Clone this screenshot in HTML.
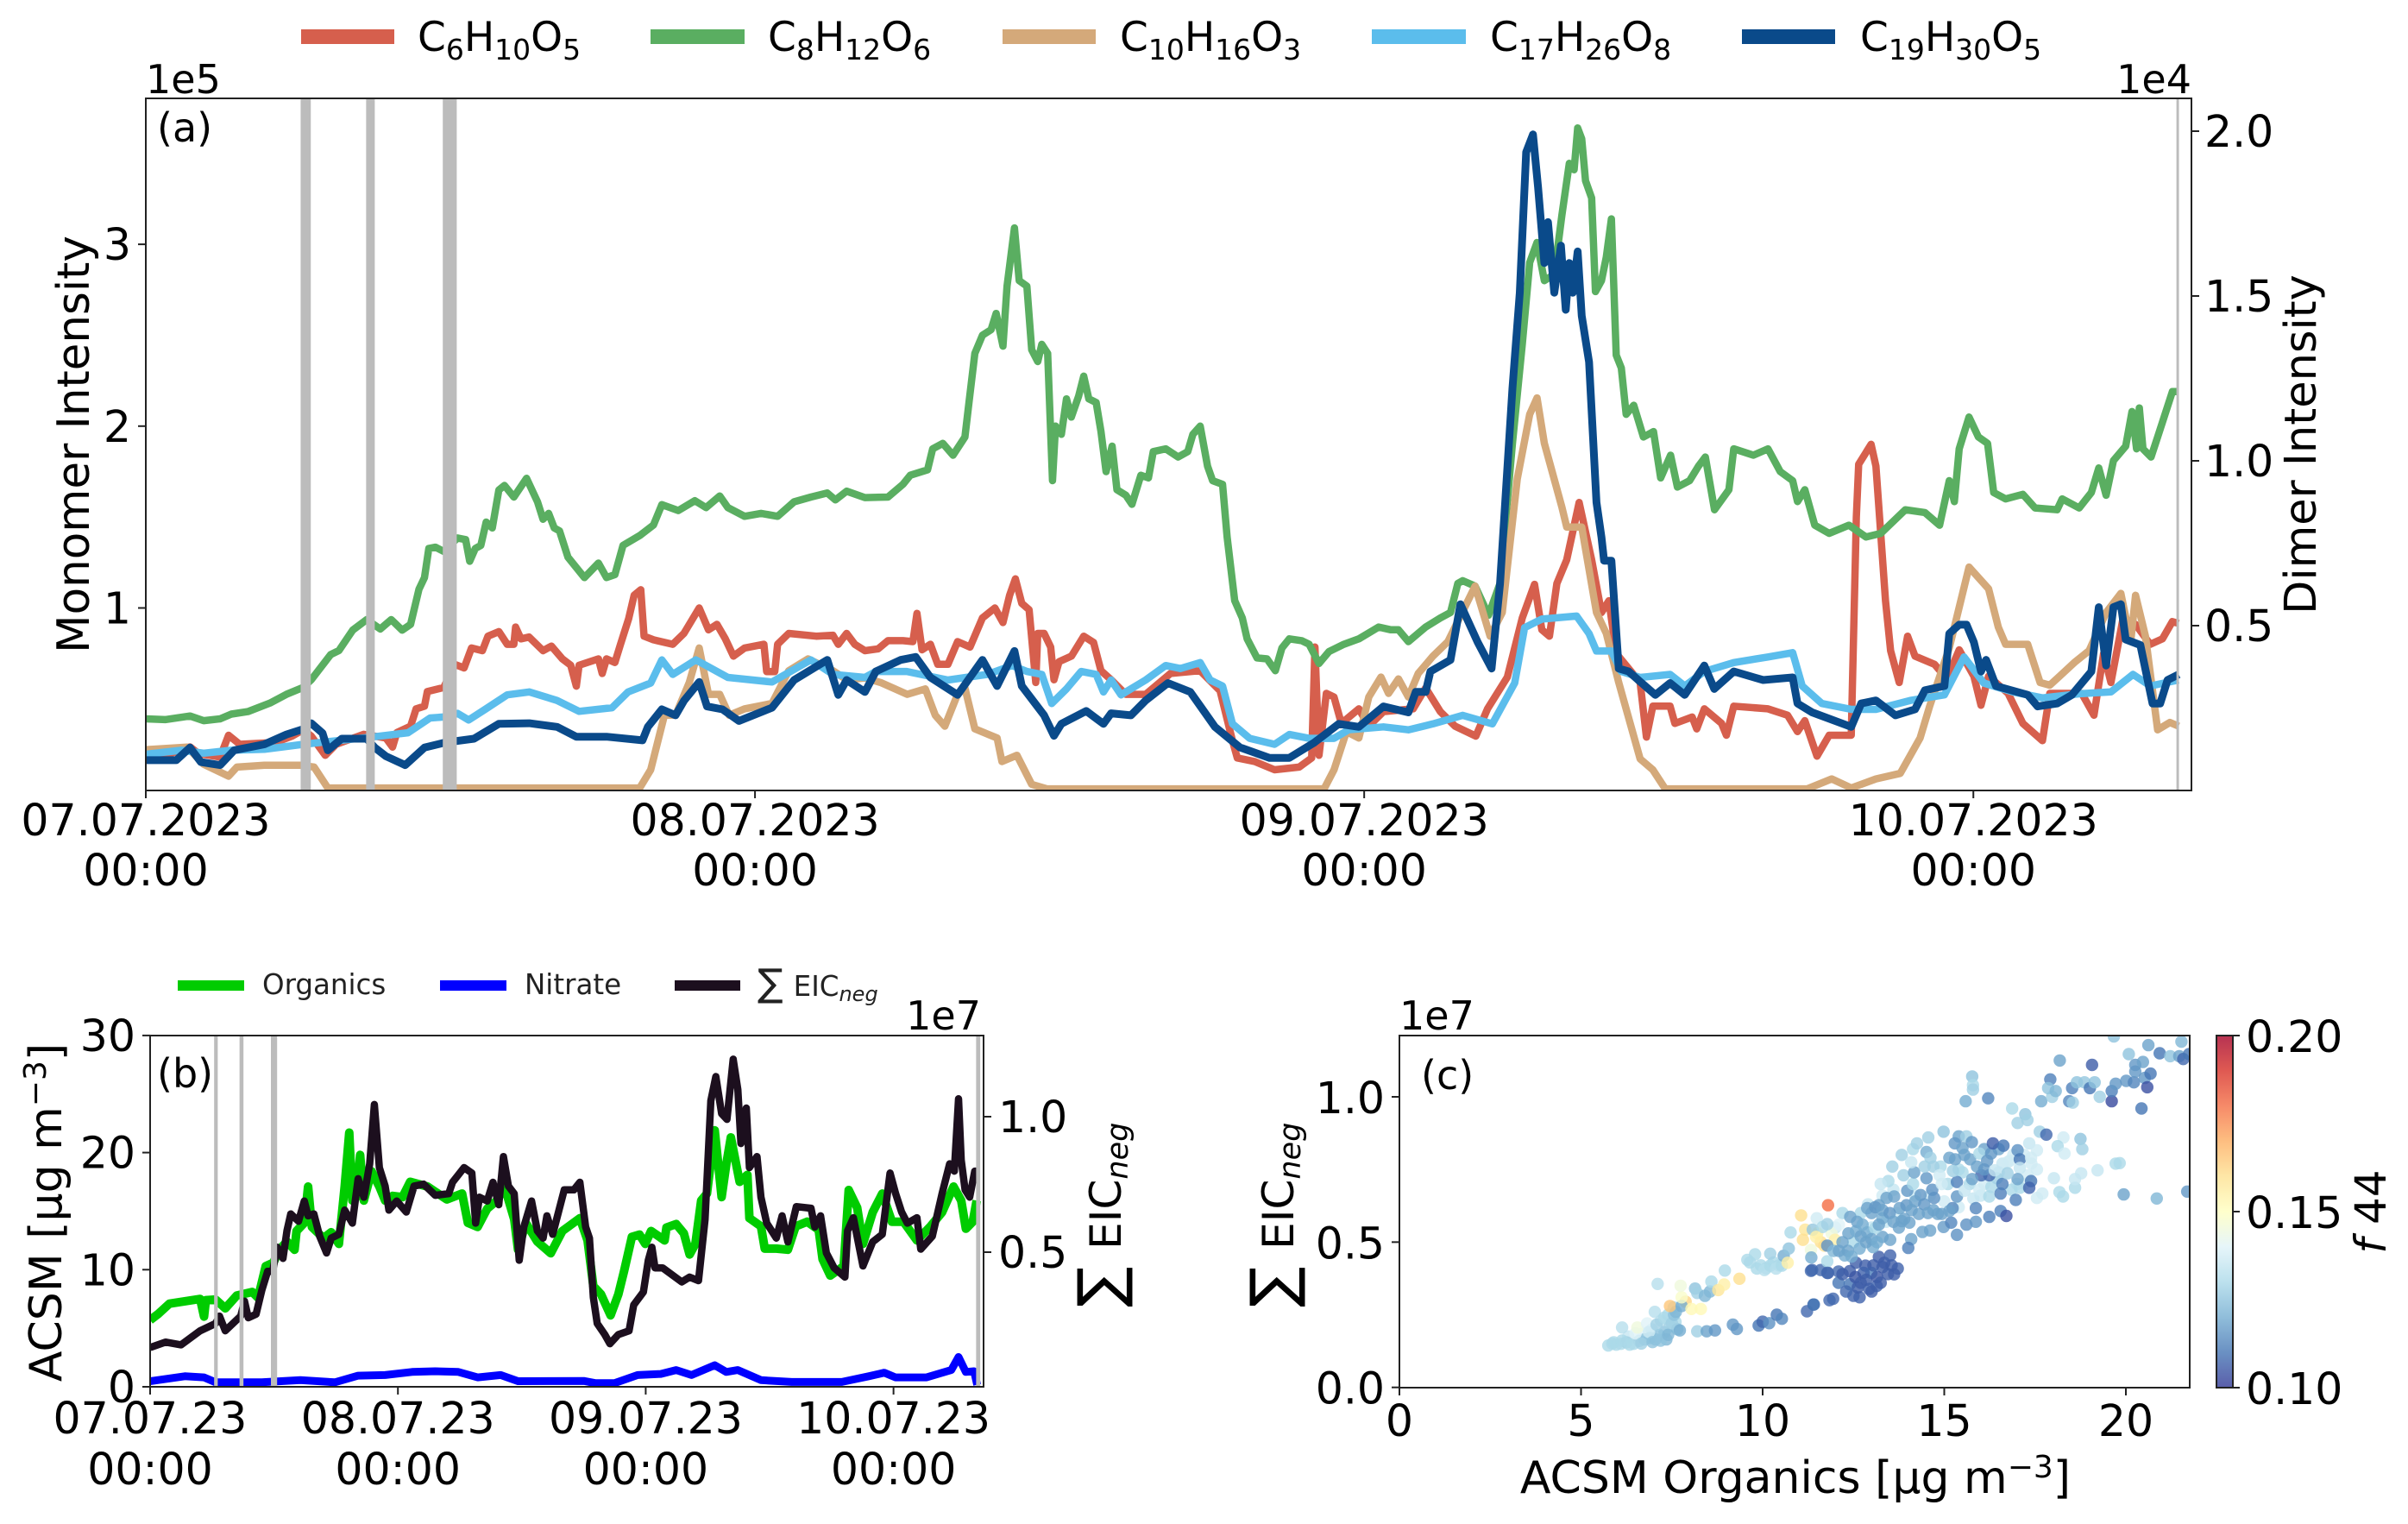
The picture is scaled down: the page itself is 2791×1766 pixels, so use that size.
<!DOCTYPE html>
<html><head><meta charset="utf-8"><title>Monomer and dimer time series</title>
<style>
html,body{margin:0;padding:0;background:#fff}
svg{display:block;font-family:"DejaVu Sans","Liberation Sans",sans-serif;fill:#000}
</style></head>
<body>
<svg id="fig" xmlns="http://www.w3.org/2000/svg" width="2791" height="1766" viewBox="0 0 2791 1766">
<defs>
<clipPath id="clipA"><rect x="169" y="114" width="2371" height="802"/></clipPath>
<clipPath id="clipB"><rect x="174" y="1200" width="966" height="407"/></clipPath>
<clipPath id="clipC"><rect x="1622" y="1200" width="916" height="408"/></clipPath>
<linearGradient id="cbGrad" x1="0" y1="1" x2="0" y2="0"></linearGradient>
</defs>
<g id="panelA"><g id="linesA" clip-path="url(#clipA)"></g><g id="axesA"></g></g>
<g id="panelB"><g id="linesB" clip-path="url(#clipB)"></g><g id="axesB"></g></g>
<g id="panelC"><g id="dotsC" clip-path="url(#clipC)"></g><g id="axesC"></g></g>

<!-- legend a -->
<g>
<rect x="349" y="34" width="108" height="17" fill="#d65f4d"/>
<text x="484" y="59" font-size="47">C<tspan font-size="33" dy="10">6</tspan><tspan dy="-10">H</tspan><tspan font-size="33" dy="10">10</tspan><tspan dy="-10">O</tspan><tspan font-size="33" dy="10">5</tspan></text>
<rect x="754" y="34" width="109" height="17" fill="#5aae61"/>
<text x="890" y="59" font-size="47">C<tspan font-size="33" dy="10">8</tspan><tspan dy="-10">H</tspan><tspan font-size="33" dy="10">12</tspan><tspan dy="-10">O</tspan><tspan font-size="33" dy="10">6</tspan></text>
<rect x="1162" y="34" width="108" height="17" fill="#d4a97a"/>
<text x="1298" y="59" font-size="47">C<tspan font-size="33" dy="10">10</tspan><tspan dy="-10">H</tspan><tspan font-size="33" dy="10">16</tspan><tspan dy="-10">O</tspan><tspan font-size="33" dy="10">3</tspan></text>
<rect x="1590" y="34" width="109" height="17" fill="#5bbdec"/>
<text x="1727" y="59" font-size="47">C<tspan font-size="33" dy="10">17</tspan><tspan dy="-10">H</tspan><tspan font-size="33" dy="10">26</tspan><tspan dy="-10">O</tspan><tspan font-size="33" dy="10">8</tspan></text>
<rect x="2019" y="34" width="108" height="17" fill="#0a4a8a"/>
<text x="2156" y="59" font-size="47">C<tspan font-size="33" dy="10">19</tspan><tspan dy="-10">H</tspan><tspan font-size="33" dy="10">30</tspan><tspan dy="-10">O</tspan><tspan font-size="33" dy="10">5</tspan></text>
</g>
<!-- panel a labels -->
<text x="182" y="164" font-size="46">(a)</text>
<text x="169" y="108" font-size="46">1e5</text>
<text x="2540" y="108" font-size="46" text-anchor="end">1e4</text>
<text transform="translate(103,515) rotate(-90)" font-size="51.5" text-anchor="middle">Monomer Intensity</text>
<text transform="translate(2684,515) rotate(-90)" font-size="51" text-anchor="middle">Dimer Intensity</text>
<!-- legend b -->
<g fill="#222">
<rect x="206" y="1136" width="77" height="12" fill="#00cc00"/>
<text x="304" y="1152" font-size="32.5">Organics</text>
<rect x="510" y="1136" width="77" height="12" fill="#0000ff"/>
<text x="608" y="1152" font-size="32.5">Nitrate</text>
<rect x="782" y="1136" width="76" height="12" fill="#1c0f1e"/>
<text x="878" y="1154" font-size="32.5"><tspan font-size="44">∑</tspan><tspan dx="12">EIC</tspan><tspan font-size="24" font-style="italic" dy="6">neg</tspan></text>
</g>
<text x="182" y="1260" font-size="46">(b)</text>
<text x="1137" y="1193" font-size="46" text-anchor="end">1e7</text>
<text transform="translate(71,1405) rotate(-90)" font-size="52" text-anchor="middle">ACSM [µg m<tspan font-size="36" dy="-18">−3</tspan><tspan dy="18">]</tspan></text>
<text transform="translate(1299,1515) rotate(-90)" font-size="50"><tspan font-size="70">∑</tspan><tspan dx="20">EIC</tspan><tspan font-size="35" font-style="italic" dy="8">neg</tspan></text>
<!-- panel c labels -->
<text x="1647" y="1262" font-size="46">(c)</text>
<text x="1622" y="1193" font-size="46">1e7</text>
<text transform="translate(1499,1515) rotate(-90)" font-size="50"><tspan font-size="70">∑</tspan><tspan dx="20">EIC</tspan><tspan font-size="35" font-style="italic" dy="8">neg</tspan></text>
<text x="2081" y="1730" font-size="52" text-anchor="middle">ACSM Organics [µg m<tspan font-size="36" dy="-18">−3</tspan><tspan dy="18">]</tspan></text>
<rect x="2569" y="1200" width="19" height="408" fill="url(#cbGrad)" stroke="#222" stroke-width="2"/>
<text transform="translate(2765,1404) rotate(-90)" font-size="50" text-anchor="middle"><tspan font-style="italic">f</tspan> 44</text>

<script>
// ---- Panel (a): [hours since 07.07.2023 00:00, intensity] ----
const c6h10o5=[[0,.21],[.76,.19],[1.74,.236],[2.07,.2],[2.93,.18],[3.26,.3],[3.7,.25],[5.1,.26],[5.76,.295],[6.2,.33],[6.52,.295],[7.07,.19],[7.5,.25],[8.59,.305],[9.46,.285],[9.72,.235],[9.89,.315],[10.43,.35],[10.65,.445],[10.98,.46],[11.09,.54],[11.74,.563],[12.17,.69],[12.54,.67],[12.83,.78],[13.26,.765],[13.48,.845],[13.91,.87],[14.24,.8],[14.5,.8],[14.57,.895],[14.78,.83],[15.1,.84],[15.65,.765],[15.98,.79],[16.41,.72],[16.74,.685],[16.96,.57],[17.07,.685],[17.83,.72],[17.98,.64],[18.15,.72],[18.48,.7],[18.7,.8],[19.02,.94],[19.24,1.07],[19.5,1.1],[19.63,.845],[20,.825],[20.76,.8],[21.2,.86],[21.8,1],[22.17,.88],[22.5,.91],[22.83,.83],[23.15,.735],[23.59,.78],[24.35,.8],[24.46,.65],[24.78,.65],[24.89,.8],[25.33,.86],[26.41,.845],[27.07,.85],[27.28,.8],[27.61,.86],[27.93,.8],[28.33,.765],[28.85,.775],[29.24,.82],[29.83,.82],[30.22,.815],[30.38,.97],[30.58,.77],[30.91,.8],[31.2,.69],[31.6,.69],[31.98,.815],[32.47,.785],[32.96,.945],[33.45,1],[33.77,.92],[34.03,1.07],[34.26,1.16],[34.51,1.025],[34.8,.99],[35.06,.59],[35.14,.86],[35.39,.86],[35.65,.785],[35.78,.605],[35.98,.705],[36.47,.735],[36.95,.845],[37.34,.81],[37.63,.655],[38.03,.605],[38.61,.525],[39.39,.525],[40.37,.64],[41.54,.655],[42.32,.545],[42.81,.27],[43,.175],[43.69,.155],[44.47,.11],[45.44,.125],[45.93,.175],[46.06,.785],[46.22,.19],[46.51,.53],[46.81,.51],[47.1,.365],[47.79,.445],[48.18,.35],[48.76,.43],[49.93,.445],[50.42,.56],[51,.43],[51.58,.35],[52.4,.295],[52.86,.445],[53.64,.62],[54.23,.945],[54.71,1.13],[55,.88],[55.3,.845],[55.59,1.135],[55.98,1.265],[56.47,1.58],[56.96,1.265],[57.35,.975],[57.64,1.04],[57.93,.75],[58.87,.59],[59.12,.29],[59.37,.46],[60.05,.46],[60.24,.365],[60.92,.4],[61.1,.335],[61.4,.445],[62.08,.365],[62.27,.3],[62.56,.46],[63.91,.445],[64.68,.41],[65.07,.32],[65.36,.38],[65.84,.185],[66.32,.3],[67.19,.3],[67.39,1.5],[67.48,1.79],[67.97,1.9],[68.16,1.78],[68.54,1.04],[68.74,.765],[69.08,.59],[69.41,.845],[69.7,.735],[70.47,.69],[70.96,.61],[71.44,.77],[72.02,.625],[72.3,.465],[72.6,.625],[73.37,.53],[73.95,.365],[74.72,.27],[75.01,.53],[76.27,.53],[76.75,.41],[77.13,.75],[77.42,.59],[77.9,.945],[78.39,.91],[78.97,.8],[79.45,.83],[79.84,.925],[80.09,.915]];
const c8h12o6=[[0,.39],[.76,.386],[1.74,.406],[2.28,.38],[2.93,.39],[3.37,.416],[4.02,.43],[4.89,.477],[5.54,.525],[6.2,.563],[6.52,.605],[7.28,.743],[7.61,.766],[8.15,.878],[8.7,.936],[9.24,.884],[9.67,.936],[10.1,.878],[10.43,.91],[10.76,1.103],[10.98,1.167],[11.15,1.327],[11.41,1.334],[11.74,1.311],[12.28,1.385],[12.6,1.376],[12.76,1.257],[12.98,1.327],[13.2,1.344],[13.41,1.472],[13.65,1.44],[13.91,1.649],[14.13,1.674],[14.5,1.61],[15,1.713],[15.43,1.584],[15.65,1.488],[15.87,1.52],[16.09,1.44],[16.3,1.424],[16.63,1.279],[17.28,1.167],[17.83,1.247],[18.15,1.167],[18.48,1.183],[18.8,1.344],[19.46,1.398],[20,1.456],[20.33,1.568],[20.98,1.536],[21.63,1.59],[22.07,1.552],[22.61,1.616],[22.93,1.552],[23.59,1.504],[24.24,1.52],[24.89,1.504],[25.54,1.584],[26.2,1.61],[26.85,1.632],[27.17,1.594],[27.61,1.642],[28.33,1.607],[29.24,1.61],[29.83,1.68],[30.12,1.73],[30.8,1.76],[31,1.875],[31.4,1.905],[31.8,1.84],[32.27,1.94],[32.43,2.13],[32.66,2.4],[32.96,2.5],[33.3,2.53],[33.5,2.62],[33.77,2.44],[33.93,2.77],[34.22,3.09],[34.41,2.8],[34.71,2.77],[34.9,2.42],[35.14,2.355],[35.3,2.45],[35.53,2.4],[35.72,1.7],[35.84,2],[36.07,1.955],[36.27,2.15],[36.46,2.05],[36.75,2.165],[36.95,2.275],[37.15,2.15],[37.44,2.13],[37.63,1.97],[37.83,1.75],[38.07,1.89],[38.26,1.65],[38.61,1.62],[38.85,1.57],[39.2,1.73],[39.5,1.715],[39.69,1.86],[40.18,1.875],[40.67,1.83],[41.05,1.86],[41.25,1.955],[41.54,2],[41.83,1.78],[42.03,1.7],[42.42,1.68],[42.6,1.39],[42.9,1.04],[43.2,.945],[43.39,.83],[43.78,.725],[44.17,.72],[44.5,.655],[44.76,.78],[45.05,.83],[45.54,.82],[45.83,.8],[46.22,.695],[46.61,.76],[47.2,.8],[47.79,.83],[48.57,.895],[49.05,.88],[49.35,.88],[49.74,.815],[50.42,.895],[51,.945],[51.4,.975],[51.69,1.135],[51.88,1.15],[52.37,1.12],[52.9,.96],[53.35,1.135],[53.84,1.905],[54.23,2.45],[54.52,2.9],[54.81,3.01],[55.1,2.8],[55.49,2.835],[55.79,3.16],[56.08,3.445],[56.27,3.41],[56.41,3.64],[56.57,3.58],[56.72,3.35],[56.96,3.255],[57.11,2.74],[57.35,2.8],[57.54,2.93],[57.74,3.14],[57.93,2.39],[58.13,2.32],[58.32,2.065],[58.62,2.115],[59,1.94],[59.4,1.97],[59.68,1.715],[60.07,1.84],[60.34,1.665],[60.82,1.7],[61.17,1.78],[61.44,1.83],[61.8,1.54],[62.37,1.65],[62.56,1.875],[63.33,1.84],[63.91,1.875],[64.39,1.75],[64.88,1.7],[65.07,1.585],[65.36,1.65],[65.75,1.455],[66.32,1.41],[67.1,1.455],[67.77,1.39],[68.35,1.41],[69.32,1.54],[70.09,1.525],[70.67,1.455],[71.05,1.7],[71.25,1.585],[71.44,1.875],[71.83,2.05],[72.2,1.94],[72.56,1.905],[72.8,1.635],[73.27,1.6],[73.95,1.625],[74.43,1.55],[75.3,1.54],[75.5,1.6],[76.17,1.55],[76.65,1.635],[76.94,1.77],[77.23,1.62],[77.52,1.81],[78,1.89],[78.25,2.08],[78.43,1.875],[78.54,2.1],[78.68,1.875],[79,1.83],[79.26,1.94],[79.84,2.19],[80.09,2.19]];
const c10h16o3=[[0,.22],[1.63,.235],[2.28,.14],[3.26,.075],[3.59,.125],[4.67,.135],[6.09,.135],[6.63,.125],[7.17,.01],[19.46,.01],[19.89,.11],[20.43,.41],[20.87,.41],[21.41,.59],[21.8,.78],[22.17,.525],[22.61,.525],[22.98,.41],[23.59,.445],[24.67,.475],[25.33,.655],[26.09,.72],[27.07,.655],[27.61,.605],[28.33,.615],[28.95,.59],[30,.525],[30.71,.555],[31.1,.41],[31.48,.35],[31.98,.525],[32.27,.56],[32.66,.335],[33.54,.285],[33.73,.155],[34.32,.19],[34.9,.03],[35.5,.005],[46.42,.005],[46.81,.11],[47.3,.32],[47.79,.285],[48.18,.51],[48.66,.62],[48.96,.53],[49.35,.61],[49.74,.51],[50.13,.64],[50.71,.735],[51.3,.815],[52.37,1.12],[52.96,.845],[53.44,.975],[54.03,1.71],[54.52,2.065],[54.81,2.155],[55.1,1.905],[55.79,1.555],[55.98,1.445],[56.57,1.445],[57.15,.975],[57.54,.86],[58.03,.59],[58.87,.17],[59.37,.11],[59.86,.005],[65.46,.005],[66.42,.06],[67.19,.01],[68.16,.06],[69.12,.09],[69.9,.285],[70.28,.46],[71.05,.78],[71.83,1.225],[72.6,1.105],[72.98,.895],[73.27,.8],[74.14,.8],[74.63,.59],[75.01,.575],[75.4,.625],[75.98,.7],[76.56,.765],[77.23,.975],[77.81,1.08],[78.2,.815],[78.39,1.07],[78.78,.845],[79.26,.33],[79.74,.37],[80.09,.35]];
const c17h26o8=[[0,.11],[1.41,.122],[2.28,.113],[3.37,.122],[4.67,.125],[6.2,.14],[7.28,.149],[9.02,.163],[10.33,.175],[11.2,.22],[11.76,.223],[12.28,.234],[12.72,.214],[13.37,.246],[14.24,.29],[15.11,.299],[16.2,.273],[17.07,.24],[18.37,.251],[19,.299],[19.89,.326],[20.33,.396],[20.76,.352],[21.67,.396],[22.93,.343],[24.67,.329],[26.2,.396],[27.07,.352],[28.33,.343],[28.76,.361],[29.98,.361],[31.6,.335],[33.15,.352],[34.12,.379],[34.71,.361],[35.3,.352],[35.69,.264],[36.27,.308],[36.85,.361],[37.44,.352],[37.73,.299],[38.03,.335],[38.42,.29],[39.39,.335],[40.18,.379],[40.76,.37],[41.54,.388],[41.93,.335],[42.42,.317],[42.81,.202],[43.49,.158],[44.47,.14],[45.05,.17],[45.83,.158],[46.81,.158],[47.39,.184],[48.76,.193],[49.74,.184],[50.71,.202],[51.88,.228],[53.05,.202],[53.93,.326],[54.32,.494],[55,.52],[56.37,.529],[56.86,.476],[57.15,.423],[57.74,.423],[58.13,.361],[58.87,.343],[60.05,.352],[60.63,.317],[61.4,.361],[62.56,.388],[63.91,.405],[64.88,.418],[65.26,.317],[66.03,.264],[67.19,.246],[68.16,.246],[69.51,.273],[70.86,.29],[71.63,.405],[72.41,.326],[73.56,.299],[74.72,.281],[76.27,.294],[77.42,.299],[78.29,.352],[78.97,.317],[80.09,.335]];
const c19h30o5=[[0,.092],[1.2,.092],[1.74,.13],[2.17,.086],[2.93,.077],[3.48,.122],[4.67,.14],[5.54,.17],[6.2,.186],[6.52,.204],[6.96,.174],[7.17,.122],[7.72,.157],[8.7,.157],[9.02,.13],[9.46,.104],[10.22,.077],[10.98,.13],[11.76,.145],[12.93,.157],[13.91,.202],[15.11,.204],[16.2,.193],[16.96,.163],[18.15,.163],[19.57,.152],[19.78,.193],[20.33,.246],[20.87,.228],[21.2,.272],[21.8,.329],[22.11,.255],[22.72,.246],[23.37,.211],[24.67,.251],[25.54,.335],[26.85,.396],[27.28,.29],[27.61,.335],[28.33,.299],[28.76,.361],[29.74,.396],[30.33,.405],[30.91,.343],[31.98,.29],[32.96,.396],[33.54,.317],[34.22,.423],[34.51,.317],[35.39,.228],[35.78,.166],[36.07,.202],[37.05,.241],[37.73,.202],[38.03,.234],[38.81,.228],[39.39,.273],[40.27,.326],[41.15,.299],[42.12,.193],[43.1,.131],[44.27,.099],[45.05,.099],[46.03,.145],[47,.202],[47.79,.193],[48.76,.255],[49.74,.237],[50.03,.299],[50.42,.299],[50.61,.361],[51.4,.396],[51.79,.565],[52.47,.45],[53.02,.37],[53.35,.627],[53.84,1.22],[54.13,1.51],[54.38,1.936],[54.65,1.99],[54.85,1.83],[55.1,1.6],[55.24,1.724],[55.49,1.51],[55.75,1.653],[55.94,1.458],[56.08,1.6],[56.22,1.51],[56.41,1.635],[56.57,1.44],[56.86,1.3],[57.15,.874],[57.35,.768],[57.45,.697],[57.74,.697],[58.03,.37],[58.42,.361],[58.87,.33],[59.47,.29],[60.05,.326],[60.63,.29],[61.4,.379],[61.79,.308],[62.56,.361],[63.72,.335],[64.88,.343],[65.07,.264],[65.65,.237],[67.19,.193],[67.58,.264],[68.16,.273],[68.93,.228],[69.7,.246],[70.09,.304],[70.86,.317],[71.05,.476],[71.44,.503],[71.73,.503],[72.02,.45],[72.3,.361],[72.5,.396],[72.89,.317],[74.14,.29],[74.53,.255],[75.3,.264],[75.88,.29],[76.65,.361],[76.94,.556],[77.23,.379],[77.52,.556],[77.81,.565],[78,.458],[78.58,.441],[79.06,.264],[79.36,.264],[79.65,.335],[80.09,.352]];
// ---- Panel (b) ----
const organics=[[0,5.7],[.75,6.2],[1.87,7.1],[3.36,7.3],[4.85,7.5],[5.22,6],[5.4,7.4],[6.34,7.45],[7.28,6.7],[8.4,7.8],[9.89,8.1],[10.45,7.6],[11.2,10.3],[11.94,10.6],[12.5,11.7],[13.25,12.4],[13.99,11.7],[14.18,13.3],[14.93,14],[15.3,17.1],[15.67,13.65],[16.79,12.7],[17.54,13.2],[18.28,12.2],[18.84,17.1],[19.29,21.7],[19.59,15.9],[19.96,16.2],[20.34,19.8],[20.7,15.9],[21.45,18.4],[22.2,17.1],[22.76,15.9],[23.5,16.3],[24.44,16.2],[25.19,17.5],[26.87,17.1],[28.73,16],[30.22,16.5],[30.78,14],[31.72,13.65],[32.65,15.2],[33.58,15.9],[34.33,17.1],[35.26,14.3],[35.63,11.7],[36.38,14],[37.5,12.4],[38.8,11.4],[39.93,13.3],[41.62,14.4],[42.37,12.5],[42.93,8.6],[43.67,7.9],[44.6,6.1],[45.35,7.9],[45.91,9.9],[46.66,12.8],[47.4,13],[47.96,12.2],[48.52,13.3],[49.83,12.5],[50.01,13.6],[50.95,13.9],[51.69,13.1],[52.25,11.3],[52.81,12.2],[53.37,15.9],[53.93,16.5],[54.68,21.9],[55.35,16.2],[55.8,19],[56.25,21.3],[57.1,17.5],[57.85,18.1],[58.04,14.4],[59.16,13.7],[59.53,11.8],[60.65,11.8],[61.77,11.7],[62.52,13.7],[63.63,14.1],[64.75,13.4],[65.13,10.9],[65.87,9.5],[67.18,10.3],[67.66,16.8],[68.48,15.3],[69.04,12.2],[69.98,14.9],[70.91,16.5],[71.85,14.1],[72.97,14.1],[74.27,12.5],[75.58,13.7],[76.7,14.9],[77.81,17.1],[78.56,15.9],[79.01,13.5],[79.68,14.1],[80.05,15.9]];
const nitrate=[[0,.48],[3.36,.9],[5.22,.8],[6.34,.38],[10.82,.38],[14.55,.57],[17.9,.38],[20.15,.95],[22.76,1],[25.37,1.27],[27.61,1.33],[29.85,1.27],[31.72,.8],[33.95,1],[35.63,.48],[41.99,.5],[43.1,.32],[44.98,.32],[47.22,1],[49.46,1.1],[50.95,1.43],[52.44,1],[54.68,1.84],[55.8,1.27],[56.92,1.43],[59.16,.57],[62.14,.41],[66.99,.41],[69.6,.9],[71.1,1.2],[72.2,.8],[75.2,.8],[77.6,1.43],[78.3,2.54],[79,1.27],[79.8,1.33],[80.1,.16]];
const eicNeg=[[0,.148],[1.49,.168],[2.99,.158],[4.85,.21],[6.34,.237],[6.72,.264],[7.28,.21],[8.77,.264],[9.14,.319],[9.51,.258],[10.26,.271],[10.82,.36],[11.38,.429],[11.87,.429],[12.31,.518],[12.87,.477],[13.25,.579],[13.62,.641],[14.37,.614],[14.93,.689],[15.3,.634],[15.86,.641],[16.42,.559],[17.09,.497],[17.54,.552],[18.28,.566],[18.84,.655],[19.59,.607],[20.15,.771],[20.71,.703],[21.27,.826],[21.72,1.045],[22.2,.812],[22.76,.744],[23.13,.655],[23.88,.689],[24.81,.648],[25.56,.744],[26.49,.751],[27.61,.71],[28.92,.716],[29.29,.758],[30.41,.812],[31.16,.792],[31.53,.607],[31.9,.703],[32.65,.689],[33.21,.758],[33.77,.675],[34.22,.853],[34.7,.744],[35.26,.716],[35.75,.47],[36.19,.593],[36.94,.689],[37.5,.579],[38.06,.552],[38.43,.634],[38.99,.566],[40.11,.73],[41.04,.73],[41.62,.758],[42.18,.593],[42.55,.552],[42.93,.333],[43.3,.237],[44.04,.196],[44.53,.162],[45.35,.196],[46.39,.21],[46.84,.305],[47.77,.353],[48.25,.47],[48.6,.518],[48.9,.442],[49.64,.442],[51.49,.39],[52.25,.408],[53.11,.395],[53.75,.621],[54.31,1.059],[54.79,1.148],[55.35,1.011],[55.87,.99],[56.47,1.212],[56.92,1.1],[57.22,.901],[57.74,1.032],[58.04,.812],[58.78,.853],[59.16,.703],[59.72,.607],[60.65,.552],[61.21,.634],[61.77,.538],[62.59,.668],[64.01,.662],[64.38,.593],[64.94,.634],[65.5,.497],[66.25,.442],[67.29,.408],[67.55,.579],[68.11,.627],[69.04,.449],[69.98,.538],[70.91,.566],[71.66,.792],[72.21,.716],[72.78,.648],[73.34,.607],[74.27,.627],[74.64,.511],[75.76,.559],[76.7,.716],[77.44,.826],[77.89,.799],[78.3,1.066],[78.56,.84],[78.93,.73],[79.38,.703],[79.87,.799],[80.17,.799]];
// Instrument-gap bands: [start hour, end hour]
const gapBandsA=[[6.1,6.5],[8.68,9.02],[11.7,12.25],[80,80.1]];
const gapBandsB=[[6.2,6.55],[8.66,9.04],[11.7,12.3],[80,80.4]];
// ---- Panel (c): [ACSM organics, sum EIC (1e7), f44] ----
const scatterRows=[[12.2,.6,.13],[12,.55,.135],[12.7,.6,.13],[12.9,.63,.135],[13.3,.66,.137],[13.6,.68,.135],[14.2,.66,.135],[14.6,.66,.137],[15,.64,.137],[15.4,.62,.137],[15.8,.65,.135],[16.1,.7,.137],[16.5,.74,.135],[16.8,.78,.137],[17,.7,.135],[17.3,.73,.137],[12.5,.5,.13],[13,.55,.135],[13.4,.57,.135],[13.7,.6,.137],
[6.3,.175,.135],[6.7,.185,.14],[6.95,.2,.135],[7.2,.23,.132],[7.4,.25,.13],[7.55,.275,.13],[5.9,.155,.13],[6.1,.15,.13],[6.25,.155,.128],[6.45,.15,.13],[6.6,.16,.128],[6.75,.165,.125],[6.9,.17,.125],[7.05,.165,.122],[7.15,.18,.125],[7.3,.19,.125],[7.35,.165,.122],[7.45,.21,.128],[7.6,.225,.13],[7.65,.2,.125],
[9.65,.43,.13],[9.95,.42,.13],[10.1,.41,.13],[10.3,.43,.13],[10.45,.42,.13],[11.5,.53,.155],[11.6,.5,.16],[11.9,.53,.145],[12.1,.56,.14],
[15.5,.74,.13],[15.7,.7,.13],[16,.66,.135],[16.3,.69,.13],[16.45,.72,.128],[16.6,.77,.135],[16.9,.8,.137],[17.2,.8,.137],[17.4,.77,.137],[17.2,.7,.137],[16.85,.68,.13],[15.1,.7,.13],[15.4,.75,.13],[14.9,.76,.13],[14.7,.76,.128],
[5.75,.144,.13],[5.86,.151,.13],[5.97,.147,.13],[6.13,.161,.13],[6.13,.206,.132],[6.34,.147,.13],[6.5,.186,.14],[6.55,.206,.145],[6.66,.151,.128],[6.82,.22,.14],[6.87,.191,.137],[6.97,.156,.125],[7.03,.26,.132],[7.08,.216,.128],[7.19,.161,.125],[7.29,.24,.13],[7.4,.181,.122],[7.5,.221,.128],[7.56,.25,.125],[7.61,.26,.122],[7.45,.28,.165],[7.88,.295,.162],[7.77,.28,.12],[8.04,.27,.152],[8.3,.27,.152],[7.77,.31,.148],[7.74,.35,.145],[7.11,.356,.132],[8.14,.34,.125],[8.2,.325,.128],[8.41,.315,.122],[8.55,.33,.122],[8.59,.364,.13],[8.78,.335,.158],[8.94,.354,.155],[8.96,.402,.13],[9.36,.374,.16],[7.72,.196,.12],[8.2,.193,.128],[8.46,.193,.118],[8.69,.196,.116],[9.18,.216,.116],[9.29,.201,.116],[9.89,.213,.11],[10,.226,.108],[10.18,.221,.115],[10.39,.25,.11],[10.53,.236,.113],[11.22,.262,.108],[11.4,.285,.108],[11.84,.3,.108],
[9.58,.439,.13],[9.79,.458,.13],[9.84,.409,.13],[10.05,.404,.132],[10.21,.46,.128],[10.21,.419,.13],[10.37,.409,.132],[10.53,.419,.13],[10.58,.453,.12],[10.69,.429,.155],[10.72,.478,.125],[10.77,.533,.13],[11.06,.592,.16],[11.17,.543,.158],[11.11,.508,.16],[11.33,.473,.145],[11.34,.447,.12],[11.33,.401,.108],[11.6,.404,.108],[11.8,.394,.106],[11.38,.543,.126],[11.49,.582,.137],[11.65,.552,.13],[11.8,.627,.18],[11.7,.488,.16],[11.47,.518,.155],[11.99,.508,.155],[11.78,.562,.128],[11.78,.488,.115],[11.78,.434,.13],[11.41,.285,.11],[11.94,.305,.108],[11.36,.404,.108],[11.78,.394,.108],[12.09,.399,.108],[12.09,.36,.11],[12.4,.355,.11],[12.5,.315,.107],[12.67,.31,.107],[12.62,.344,.106],[12.93,.339,.107],[13.14,.349,.107],[12.57,.429,.106],[12.83,.419,.106],[12.99,.394,.112],[13.2,.449,.106],[13.35,.429,.106],[13.51,.454,.107],[13.72,.409,.107],[13.62,.389,.106],[13.3,.414,.106],[12.78,.394,.107],
[12.2,.39,.106],[12.4,.4,.106],[12.55,.38,.105],[12.7,.36,.106],[12.85,.37,.106],[13.05,.42,.106],[13.15,.38,.105],[13.25,.36,.106],[13.45,.39,.106],[13.55,.42,.106],[13,.33,.106],[12.3,.33,.108],
[12.26,.454,.12],[12.67,.478,.12],[12.36,.53,.118],[12.88,.533,.12],[12.57,.538,.12],[13.04,.483,.12],[13.51,.508,.118],[13.3,.518,.118],[13.1,.548,.13],[12.41,.587,.118],[12.88,.617,.118],[13.2,.627,.118],[13.41,.652,.118],[13.62,.657,.118],[13.3,.582,.12],[13.83,.572,.118],[14.04,.567,.118],[13.77,.617,.118],[13.96,.627,.116],[14.3,.597,.118],[13.98,.677,.116],[14.35,.662,.116],[14.51,.72,.116],[14.67,.68,.115],[14.72,.652,.115],
[11.95,.47,.122],[12.1,.47,.118],[12.2,.5,.118],[12.35,.47,.118],[12.45,.45,.12],[12.7,.52,.118],[12.85,.5,.118],[13,.51,.118],[13.15,.5,.12],[13.2,.56,.118],[12.6,.57,.118],[12.75,.56,.12],[13,.6,.118],[13.1,.62,.116],[13.3,.61,.118],[13.5,.6,.116],[13.6,.57,.118],[13.75,.55,.118],[13.9,.58,.118],[14.1,.61,.118],[14.2,.64,.118],[14.45,.63,.116],[14.55,.6,.118],[14.7,.61,.118],
[14.14,.7,.13],[13.46,.71,.13],[13.25,.7,.135],[13.57,.76,.128],[13.83,.8,.128],[14.14,.82,.13],[14.25,.84,.128],[14.56,.86,.128],[14.98,.88,.125],[14.51,.81,.12],[14.62,.79,.128],[13.88,.73,.128],[14.17,.74,.118],[14.46,.76,.128],[14.09,.775,.135],[14.87,.73,.137],[14.93,.7,.137],[14.82,.597,.118],[14.4,.535,.118],[14.09,.51,.118],[14.01,.48,.112],[14.61,.54,.118],[14.98,.552,.117],[15.19,.567,.113],[15.35,.525,.115],[15.61,.56,.115],[15.87,.57,.116],[14.93,.597,.118],[15.23,.617,.113],[15.35,.657,.116],[15.14,.607,.118],[15.87,.617,.113],[16.24,.587,.112],[16.55,.607,.112],[16.71,.59,.104],[16.97,.645,.112],[15.35,.707,.112],[15.56,.677,.135],[15.97,.68,.137],[16.24,.657,.13],[16.55,.667,.112],[16.6,.7,.112],[16.02,.73,.108],[15.77,.717,.118],[16.24,.73,.108],[17.08,.687,.13],[17.39,.71,.11],[17.34,.687,.107],[17.55,.652,.137],[17.7,.667,.137],[18.17,.672,.13],[18.27,.657,.13],[18.02,.72,.135],[18.6,.687,.13],[18.6,.717,.135],[18.77,.737,.135],[19.22,.747,.135],[19.72,.77,.13],[19.83,.772,.13],[19.94,.664,.118],[20.85,.65,.122],[21.69,.674,.116],[15.9,.76,.118],[16.1,.82,.118],[16.5,.82,.118],[16.1,.75,.116],[15.55,.8,.118],[15.14,.79,.118],[15.3,.785,.118],[15.24,.745,.128],[15.4,.864,.118],[15.61,.864,.128],[15.29,.84,.116],[15.5,.824,.118],[15.76,.844,.116],[15.71,.785,.118],[15.97,.805,.13],[16.29,.805,.116],[16.18,.78,.116],[16.34,.84,.106],[16.63,.832,.11],[17.02,.816,.115],[17.08,.785,.11],[16.74,.775,.137],[17.34,.84,.135],[17.55,.816,.137],[17.39,.79,.137],[17.08,.755,.135],[17.55,.75,.137],[17.02,.717,.118],[16.74,.737,.128],[16.39,.747,.135],[17.63,.88,.128],[17.81,.87,.108],[18.28,.86,.137],[18.12,.83,.13],[18.31,.805,.137],[18.75,.855,.125],[18.8,.82,.128],[16.87,.96,.13],[17.02,.91,.128],[17.23,.94,.125],[17.29,.92,.128],[15.59,.985,.12],[15.77,1.07,.125],[15.79,1.04,.13],[15.79,1.025,.128],[16.21,.995,.113],[17.67,.985,.12],[17.97,1,.128],[17.92,1.06,.112],[17.86,1.03,.125],[18.07,1.02,.122],[18.18,1.125,.118],[18.44,.985,.113],[18.54,.98,.128],[18.52,1.03,.112],[18.65,1.05,.125],[18.86,1.05,.126],[19.07,1.11,.106],[19.01,1.03,.11],[19.14,1.05,.125],[19.28,1,.128],[19.61,.985,.103],[19.61,1.02,.112],[19.72,1.045,.116],[20.01,1.055,.116],[20.22,1.05,.113],[20.08,1.147,.125],[20.26,1.11,.116],[20.26,1.087,.116],[20.47,1.12,.118],[20.52,1.065,.116],[20.68,1.08,.11],[20.43,.96,.11],[20.59,1.033,.104],[20.62,1.178,.118],[20.93,1.15,.11],[21.22,1.14,.125],[21.53,1.19,.122],[21.47,1.14,.118],[21.58,1.13,.108],[21.74,1.147,.11],[19.67,1.208,.125]];
// Tick values & labels
const xTickHours=[0,24,48,72];
const xTickDatesA=["07.07.2023","08.07.2023","09.07.2023","10.07.2023"];
const xTickDatesB=["07.07.23","08.07.23","09.07.23","10.07.23"];
const xTickTime="00:00";
const monomerTicks=[1,2,3];
const dimerTicks=[0.5,1.0,1.5,2.0];
const acsmTicks=[0,10,20,30];
const eicTicksB=[0.5,1.0];
const organicsTicks=[0,5,10,15,20];
const eicTicksC=[0.0,0.5,1.0];
const f44Ticks=[0.10,0.15,0.20];
const rdYlBuR=["#313695","#4575b4","#74add1","#abd9e9","#e0f3f8","#ffffbf","#fee090","#fdae61","#f46d43","#d73027","#a50026"];

const NS="http://www.w3.org/2000/svg";
function mk(tag,attrs,parent){const e=document.createElementNS(NS,tag);for(const k in attrs)e.setAttribute(k,attrs[k]);parent.appendChild(e);return e;}
const xA=h=>169+29.42*h, yMono=v=>915.2-210.7*v, yDim=v=>916-382*v;
const xB=h=>174+11.967*h, yAcsm=v=>1607-13.57*v, yEic=v=>1608-314*v;
const xC=v=>1622+42.1*v, yC=v=>1607.7-336.7*v;
const yF=v=>1608-(v-0.1)*4080;
const pathOf=(s,fx,fy)=>s.map((p,i)=>(i?'L':'M')+fx(p[0]).toFixed(1)+' '+fy(p[1]).toFixed(1)).join('');

function drawLine(parent,series,fx,fy,color,width,name){
  const p=mk('path',{d:pathOf(series,fx,fy),fill:'none',stroke:color,'stroke-width':width,'stroke-linejoin':'round','stroke-linecap':'butt'},parent);
  
  
}
function drawBands(parent,bands,fx,y0,h,name){
  bands.forEach(b=>{
    const r=mk('rect',{x:fx(b[0]),y:y0,width:fx(b[1])-fx(b[0]),height:h,fill:'#bcbcbc'},parent);
    
    
  });
}
function tick(parent,x1,y1,x2,y2){
  const l=mk('line',{x1,y1,x2,y2,stroke:'#222','stroke-width':2},parent);
  
  
}
function label(parent,x,y,str,anchor){
  const t=mk('text',{x,y,'font-size':50.5,'text-anchor':anchor},parent);
  t.textContent=str;
  
  
}
function frame(parent,x,y,w,h){
  const r=mk('rect',{x,y,width:w,height:h,fill:'none',stroke:'#222','stroke-width':2},parent);
  
  
}
// Panel A
const la=document.getElementById('linesA'),aa=document.getElementById('axesA');
drawLine(la,c6h10o5,xA,yMono,'#d65f4d',8.5,'line-c6h10o5');
drawLine(la,c8h12o6,xA,yMono,'#5aae61',8.5,'line-c8h12o6');
drawLine(la,c10h16o3,xA,yMono,'#d4a97a',8.5,'line-c10h16o3');
drawLine(la,c17h26o8,xA,yDim,'#5bbdec',8.5,'line-c17h26o8');
drawLine(la,c19h30o5,xA,yDim,'#0a4a8a',9,'line-c19h30o5');
drawBands(la,gapBandsA,xA,114,802,'gap-band');
frame(aa,169,114,2371,802);
xTickHours.forEach((h,i)=>{tick(aa,xA(h),916,xA(h),925);label(aa,xA(h),968,xTickDatesA[i],'middle');label(aa,xA(h),1026,xTickTime,'middle');});
monomerTicks.forEach(v=>{tick(aa,160,yMono(v),169,yMono(v));label(aa,152,yMono(v)+18,String(v),'end');});
dimerTicks.forEach(v=>{tick(aa,2540,yDim(v),2549,yDim(v));label(aa,2555,yDim(v)+18,v.toFixed(1),'start');});
// Panel B
const lb=document.getElementById('linesB'),ab=document.getElementById('axesB');
drawLine(lb,organics,xB,yAcsm,'#00cc00',10,'line-organics');
drawLine(lb,nitrate,xB,yAcsm,'#0000ff',9,'line-nitrate');
drawLine(lb,eicNeg,xB,yEic,'#1c0f1e',8.5,'line-eic-neg');
drawBands(lb,gapBandsB,xB,1200,407,'gap-band');
frame(ab,174,1200,966,407);
xTickHours.forEach((h,i)=>{tick(ab,xB(h),1607,xB(h),1616);label(ab,xB(h),1661,xTickDatesB[i],'middle');label(ab,xB(h),1720,xTickTime,'middle');});
acsmTicks.forEach(v=>{tick(ab,165,yAcsm(v),174,yAcsm(v));label(ab,157,yAcsm(v)+18,String(v),'end');});
eicTicksB.forEach(v=>{tick(ab,1140,yEic(v),1149,yEic(v));label(ab,1157,yEic(v)+18,v.toFixed(1),'start');});
// Panel C
const dc=document.getElementById('dotsC'),ac=document.getElementById('axesC');
function hexRgb(h){return [1,3,5].map(i=>parseInt(h.substr(i,2),16));}
function cmap(f){
  const t=Math.max(0,Math.min(1,(f-0.1)/0.1))*(rdYlBuR.length-1),i=Math.min(Math.floor(t),rdYlBuR.length-2),u=t-i;
  const a=hexRgb(rdYlBuR[i]),b=hexRgb(rdYlBuR[i+1]);
  return 'rgb('+a.map((c,k)=>Math.round(c+(b[k]-c)*u)).join(',')+')';
}
scatterRows.forEach(r=>{
  const c=mk('circle',{cx:xC(r[0]).toFixed(1),cy:yC(r[1]).toFixed(1),r:7.2,fill:cmap(r[2]),'fill-opacity':.8},dc);
  
  
});
frame(ac,1622,1200,916,408);
organicsTicks.forEach(v=>{tick(ac,xC(v),1608,xC(v),1617);label(ac,xC(v),1664,String(v),'middle');});
eicTicksC.forEach(v=>{tick(ac,1613,yC(v),1622,yC(v));label(ac,1605,yC(v)+19,v.toFixed(1),'end');});
f44Ticks.forEach(v=>{tick(ac,2588,yF(v),2596,yF(v));label(ac,2603,yF(v)+19,v.toFixed(2),'start');});
const grad=document.getElementById('cbGrad');
rdYlBuR.forEach((c,i)=>{mk('stop',{offset:i/(rdYlBuR.length-1),'stop-color':c,'stop-opacity':.8},grad);});
</script>
</svg>
</body></html>
